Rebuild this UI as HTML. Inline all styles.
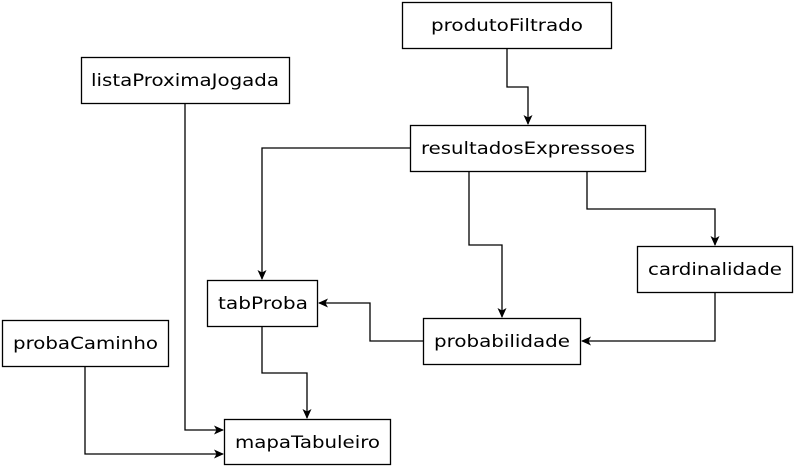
<!DOCTYPE html>
<html><head><meta charset="utf-8"><style>
html,body{margin:0;padding:0;background:#fff;}
svg{display:block;}
text{font-family:"DejaVu Sans","Liberation Sans",sans-serif;font-size:17px;fill:#000;}
</style></head><body>
<svg width="794" height="467" viewBox="0 0 794 467" xmlns="http://www.w3.org/2000/svg">
<defs>
<marker id="a" markerWidth="12" markerHeight="12" refX="9" refY="6" orient="auto" markerUnits="userSpaceOnUse">
<path d="M0,1.5 L10,6 L0,10.5 L2.5,6 Z" fill="#000"/>
</marker>
</defs>
<g fill="none" stroke="#000" stroke-width="1.3">
<polyline points="507,48 507,87 528,87 528,124" marker-end="url(#a)"/>
<polyline points="410,148 262,148 262,279" marker-end="url(#a)"/>
<polyline points="469,171 469,245 502,245 502,317" marker-end="url(#a)"/>
<polyline points="587,171 587,209 715,209 715,245" marker-end="url(#a)"/>
<polyline points="715,292 715,341 582,341" marker-end="url(#a)"/>
<polyline points="423,341 370,341 370,303 319,303" marker-end="url(#a)"/>
<polyline points="262,326 262,373 307,373 307,418" marker-end="url(#a)"/>
<polyline points="185,103 185,430 223,430" marker-end="url(#a)"/>
<polyline points="85,366 85,454 223,454" marker-end="url(#a)"/>
</g>
<g fill="#fff" stroke="#000" stroke-width="1.3">
<rect x="402.5" y="2.5" width="209" height="46"/>
<rect x="81.5" y="57.5" width="208" height="46"/>
<rect x="410.5" y="125.5" width="235" height="46"/>
<rect x="637.5" y="246.5" width="155" height="46"/>
<rect x="207.5" y="280.5" width="110" height="46"/>
<rect x="423.5" y="318.5" width="157" height="46"/>
<rect x="2.5" y="320.5" width="166" height="46"/>
<rect x="224.5" y="419.5" width="166" height="45"/>
</g>
<g>
<text x="431" y="31" textLength="152" lengthAdjust="spacingAndGlyphs">produtoFiltrado</text>
<text x="91" y="86" textLength="188" lengthAdjust="spacingAndGlyphs">listaProximaJogada</text>
<text x="421" y="154" textLength="214" lengthAdjust="spacingAndGlyphs">resultadosExpressoes</text>
<text x="648" y="275" textLength="134" lengthAdjust="spacingAndGlyphs">cardinalidade</text>
<text x="218" y="309" textLength="90" lengthAdjust="spacingAndGlyphs">tabProba</text>
<text x="434" y="347" textLength="136" lengthAdjust="spacingAndGlyphs">probabilidade</text>
<text x="13" y="349" textLength="145" lengthAdjust="spacingAndGlyphs">probaCaminho</text>
<text x="235" y="448" textLength="145" lengthAdjust="spacingAndGlyphs">mapaTabuleiro</text>
</g>
</svg>
</body></html>
